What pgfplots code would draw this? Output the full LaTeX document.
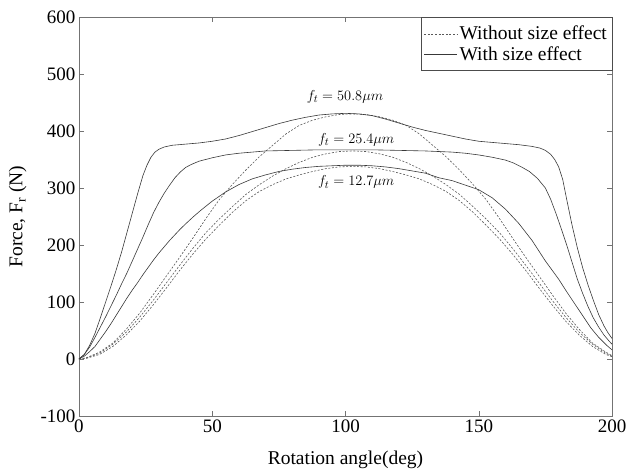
\documentclass[border=0pt]{standalone}
\usepackage{fontspec}
\setmainfont{Liberation Serif}
\usepackage{pgfplots}
\pgfplotsset{compat=1.18}
\begin{document}
\begin{tikzpicture}
\useasboundingbox (-79pt,-59pt) rectangle (547pt,416pt);
\begin{axis}[
 scale only axis, width=533pt, height=399pt,
 xmin=0, xmax=200, ymin=-100, ymax=600,
 xtick={0,50,...,200}, ytick={-100,0,...,600},
 tick align=inside, major tick length=5pt,
 axis line style={black!55}, tick style={black!55, line width=0.5pt},
 /pgf/number format/assume math mode=true,
 ticklabel style={font=\fontsize{19}{21}\selectfont},
 xlabel={Rotation angle(deg)}, ylabel={Force, F\textsubscript{r} (N)},
 label style={font=\fontsize{19.5}{22}\selectfont},
 xlabel style={at={(axis description cs:0.5,-0.11)}, anchor=center},
 ylabel style={at={(axis description cs:-0.115,0.5)}, anchor=center},
 legend style={at={(rel axis cs:1,1)}, anchor=north east, draw=black!70,
   font=\fontsize{19.5}{21}\selectfont, cells={anchor=west}, inner xsep=3pt, inner ysep=7pt, row sep=1pt},
 legend image code/.code={\draw[#1] (0pt,0pt) -- (33pt,0pt);},
 every axis plot/.append style={line width=0.6pt},
 sol/.style={black!78},
 dsh/.style={black!65, dash pattern=on 2pt off 1.6pt},
]
% dashed: without size effect, f_t = 50.8
\addplot[dsh] coordinates {(0,0) (2.7,2) (7.7,12) (12.7,28) (17.7,52) (22.7,80) (27.7,112) (32.7,145) (37.7,178) (42.7,212) (47.7,247) (52.7,280) (57.7,307) (62.7,332) (67.7,355) (72.7,375) (77.7,395) (82.7,410) (87.7,419) (92.7,425) (97.7,429) (102.7,430) (107.7,429) (112.7,425) (117.7,419) (122.7,410) (127.7,395) (132.7,375) (137.7,355) (142.7,332) (147.7,307) (152.7,280) (157.7,247) (162.7,212) (167.7,178) (172.7,145) (177.7,112) (182.7,80) (187.7,52) (192.7,28) (197.7,12) (200,6)};
\addlegendentry{Without size effect}
% solid: with size effect, f_t = 50.8
\addplot[sol] coordinates {(0,0) (2,8) (4,24) (6,45) (8,72) (10,100) (12,128) (14,157) (16,188) (18,222) (20,256) (22,290) (24,322) (25.5,340) (27,354) (28.5,363) (30,368) (32,372) (35,375) (40,377) (45,379) (50,382) (55,386) (60,392) (65,399) (70,406) (75,413) (80,419) (85,424) (90,428) (95,430) (100,431) (105,430) (110,427) (115,421) (120,414) (125,407) (130,401) (135,396) (140,391) (145,386) (150,382) (155,380) (160,378) (165,376) (170,373) (173,370) (175,366) (177,359) (178.5,350) (180,337) (181.5,315) (183,280) (185,235) (187,195) (189,160) (191,130) (193,103) (195,78) (197,58) (198.5,46) (200,36)};
\addlegendentry{With size effect}
% dashed f_t = 25.4
\addplot[dsh, forget plot] coordinates {(0,0) (2.7,2) (7.7,10) (12.7,26) (17.7,47) (22.7,73) (27.7,102) (32.7,133) (37.7,164) (42.7,194) (47.7,222) (52.7,246) (57.7,268) (62.7,289) (67.7,306) (72.7,321) (77.7,334) (82.7,345) (87.7,354) (92.7,360) (97.7,364) (102.7,365) (107.7,364) (112.7,360) (117.7,354) (122.7,345) (127.7,334) (132.7,321) (137.7,306) (142.7,289) (147.7,268) (152.7,246) (157.7,222) (162.7,194) (167.7,164) (172.7,133) (177.7,102) (182.7,73) (187.7,47) (192.7,26) (197.7,10) (200,5)};
% dashed f_t = 12.7
\addplot[dsh, forget plot] coordinates {(0,0) (2.7,1) (7.7,8) (12.7,22) (17.7,42) (22.7,66) (27.7,94) (32.7,124) (37.7,155) (42.7,184) (47.7,211) (52.7,235) (57.7,258) (62.7,278) (67.7,294) (72.7,306) (77.7,316) (82.7,323) (87.7,329) (92.7,334) (97.7,337) (102.7,338) (107.7,337) (112.7,334) (117.7,329) (122.7,323) (127.7,316) (132.7,306) (137.7,294) (142.7,278) (147.7,258) (152.7,235) (157.7,211) (162.7,184) (167.7,155) (172.7,124) (177.7,94) (182.7,66) (187.7,42) (192.7,22) (197.7,8) (200,4)};
% solid f_t = 25.4
\addplot[sol, forget plot] coordinates {(0,0) (2,8) (4,21) (6,38) (8,56) (10,74) (12,93) (14,112) (16,132) (18,151) (20,172) (22,193) (24,214) (26,236) (28,257) (30,275) (32,291) (34,305) (36,318) (38,328) (40,336) (42,341) (45,347) (50,353) (55,358) (60,361) (65,363) (70,365) (80,366) (90,367) (100,367) (110,367) (120,366) (130,365) (135,364) (140,363) (145,361) (150,358) (155,354) (160,349) (163,344) (166,337) (169,329) (172,317) (175,300) (177,280) (179,255) (181,228) (183,200) (185,170) (187,140) (189,115) (191,92) (193,72) (195,56) (197,42) (199,31) (200,26)};
% solid f_t = 12.7
\addplot[sol, forget plot] coordinates {(0,0) (2,5) (4,13) (6,22) (8,35) (10,48) (12,62) (14,77) (16,92) (18,107) (20,121) (22,134) (24,148) (26,161) (28,174) (30,186) (32,197) (34,208) (36,218) (38,228) (40,237) (43,250) (46,262) (50,277) (55,293) (60,306) (65,316) (70,323) (75,329) (80,333) (85,336) (90,338) (95,339) (100,340) (105,340) (110,339) (115,337) (120,334) (125,330) (130,326) (135,318) (140,313) (145,305) (150,297) (155,283) (160,263) (165,238) (170,208) (175,172) (180,140) (183,118) (186,97) (189,76) (192,55) (195,38) (198,24) (200,16)};
\node[font=\fontsize{15.5}{17}\selectfont] at (axis cs:99.8,460) {$f_t = 50.8\mu m$};
\node[font=\fontsize{15.5}{17}\selectfont] at (axis cs:104,384) {$f_t = 25.4\mu m$};
\node[font=\fontsize{15.5}{17}\selectfont] at (axis cs:104,310) {$f_t = 12.7\mu m$};
\end{axis}
\end{tikzpicture}
\end{document}
